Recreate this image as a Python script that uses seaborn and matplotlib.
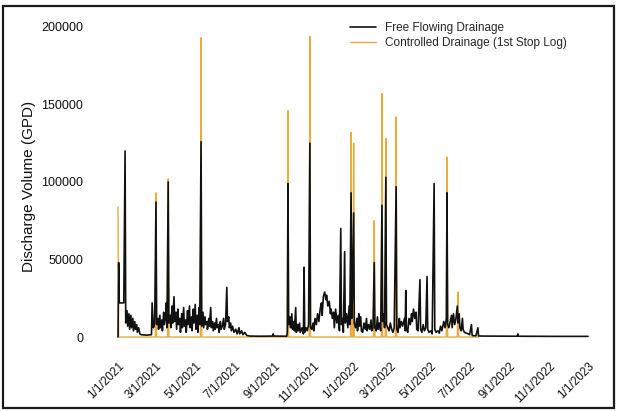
import numpy as np
import pandas as pd
import matplotlib
matplotlib.use("Agg")
import matplotlib.pyplot as plt
import matplotlib.patches as patches
import seaborn as sns

# ---- data (days since 1/1/2021, discharge in GPD) ----
free_days = [0, 1, 2, 9, 11, 12, 14, 15, 17, 18, 20, 21, 23, 24, 26, 27, 29, 30, 32, 34,
             36, 44, 52, 53, 55, 57, 59, 60, 62, 63, 65, 66, 68, 69, 71, 72, 74, 75, 76, 78, 79,
             81, 82, 84, 85, 87, 88, 90, 91, 93, 94, 96, 97, 99, 100, 102, 103, 105, 106, 108, 109,
             111, 112, 114, 115, 117, 118, 120, 121, 123, 124, 126, 127,
             129, 130, 132, 133, 135, 136, 138, 139, 141, 142, 144, 145, 147, 148, 150, 151, 153, 154,
             156, 157, 159, 160, 162, 164, 165, 167, 169, 170, 172, 173, 175, 176, 178, 180, 183, 185,
             188, 189, 192, 194, 197, 200, 205, 220, 240, 241, 242, 255, 262,
             263, 264, 265, 267, 268, 270, 271, 273, 274, 276, 277, 279, 280, 282, 283, 286, 288, 289,
             290, 292, 294, 296, 298, 299, 301, 303, 304, 306, 308, 310, 312, 314, 316, 317, 319, 321,
             323, 324, 326, 328, 330, 331, 333, 335, 336, 338, 340, 342, 344, 346, 347, 349, 350, 352,
             353, 355, 357, 359, 360, 362, 363, 364, 366, 367, 369, 371, 372, 374, 375, 377, 378, 380,
             382, 384, 386, 387, 389, 391, 393, 394, 396, 398, 399, 401, 403, 404, 406, 408, 410, 411,
             413, 414, 416, 417, 419, 421, 423, 425, 427, 429, 432, 433, 435, 437, 438, 440, 442, 445,
             446, 447, 448, 450, 452, 454, 456, 457, 459, 461, 463, 464, 466, 469, 470, 472, 474, 476,
             478, 480, 481, 483, 486, 488, 491, 492, 494, 497, 499, 501, 503, 506, 508, 510, 511, 512,
             514, 516, 518, 519, 521, 523, 525, 527, 528, 530, 531, 533, 535, 536, 538, 541, 544, 546,
             549, 550, 553, 556, 559, 560, 565, 600, 620, 621, 622, 680, 730]
free_vals = [0, 48000, 22000, 22000, 120000, 9000, 17000, 7000, 15000, 5000, 14000, 6000, 12000, 4000,
             10000, 5000, 8000, 3000, 6000, 2000,
             1500, 1200, 1500, 22000, 6000, 9000, 87000, 8000, 12000, 5000, 14000, 6000, 11000, 4000,
             16000, 8000, 13000, 22000, 6000, 100000, 9000,
             14000, 6000, 20000, 9000, 26000, 10000, 16000, 5000, 18000, 8000, 12000, 3000, 15000, 6000,
             19000, 7000, 11000, 3000, 17000, 8000, 20000, 6000, 13000, 4000, 18000, 9000, 21000, 5000,
             14000, 3000, 19000, 8000,
             126000, 7000, 16000, 6000, 13000, 8000, 10000, 5000, 12000, 7000, 19000, 6000, 10000, 4000,
             9000, 5000, 12000, 6000, 8000, 3000, 10000, 5000, 7000, 12000, 5000, 8000, 32000, 10000,
             13000, 6000, 9000, 4000, 7000, 3000, 5000, 2000, 6000, 2000, 4000, 1500, 3000, 1000, 600,
             500, 600, 2000, 600, 500, 500,
             3000, 99000, 8000, 13000, 6000, 15000, 5000, 10000, 4000, 19000, 3000, 8000, 4000, 9000,
             3000, 6000, 2000, 45000, 3000, 6000, 4000, 8000, 125000, 6000, 5000, 9000, 4000, 12000,
             8000, 15000, 10000, 18000, 22000, 14000, 26000, 29000, 24000, 27000, 20000, 23000, 15000,
             18000, 12000, 16000, 6000, 18000, 9000, 14000, 4000, 70000, 8000, 12000, 3000, 55000,
             9000, 15000, 6000, 20000, 8000, 93000, 12000, 25000, 80000, 9000, 6000, 12000, 4000,
             15000, 7000, 13000, 4000, 3000, 9000, 5000, 12000, 4000, 8000, 5000, 11000, 4000, 6000,
             48000, 6000, 4000, 13000, 5000, 9000, 4000, 85000, 10000, 15000, 6000, 103000, 8000,
             6000, 4000, 9000, 5000, 3000, 6000, 97000, 5000, 3000, 12000, 6000, 10000, 7000, 12000,
             4000, 30000, 5000, 3000, 12000, 8000, 15000, 10000, 18000, 12000, 16000, 5000, 4000,
             37000, 5000, 3000, 8000, 4000, 6000, 39000, 5000, 3000, 4000, 2000, 99000, 5000, 3000,
             4000, 2500, 7000, 4000, 10000, 6000, 12000, 93000, 8000, 6000, 10000, 14000, 6000, 15000,
             8000, 12000, 20000, 9000, 15000, 6000, 4000, 12000, 5000, 3000, 2500, 2000, 1500, 8000,
             1000, 800, 800, 6000, 700, 600, 500, 500, 2000, 500, 400, 400]

ctrl_days = [0, 1, 58, 59, 60, 77, 78, 79, 128, 129, 130, 263, 264, 265, 297, 298, 299,
             361, 362, 363, 365, 366, 367, 397, 398, 399, 409, 410, 411, 415, 416, 417,
             431, 432, 433, 510, 511, 512, 527, 528, 529, 560]
ctrl_vals = [84000, 0, 0, 93000, 0, 0, 102000, 0, 0, 193000, 0, 0, 146000, 0, 0, 194000, 0,
             0, 132000, 0, 0, 125000, 0, 0, 75000, 0, 0, 157000, 0, 0, 128000, 0,
             0, 142000, 0, 0, 116000, 0, 0, 29000, 0, 0]

tick_dates = ["2021-01-01", "2021-03-01", "2021-05-01", "2021-07-01", "2021-09-01", "2021-11-01",
              "2022-01-01", "2022-03-01", "2022-05-01", "2022-07-01", "2022-09-01", "2022-11-01",
              "2023-01-01"]
tick_labels = ["1/1/2021", "3/1/2021", "5/1/2021", "7/1/2021", "9/1/2021", "11/1/2021",
               "1/1/2022", "3/1/2022", "5/1/2022", "7/1/2022", "9/1/2022", "11/1/2022", "1/1/2023"]
y_ticks = [0, 50000, 100000, 150000, 200000]

series_names = ["Free Flowing Drainage", "Controlled Drainage (1st Stop Log)"]

# ---- build frames ----
start = pd.Timestamp("2021-01-01")
free_df = pd.DataFrame({"date": start + pd.to_timedelta(free_days, unit="D"), "gpd": free_vals})
ctrl_df = pd.DataFrame({"date": start + pd.to_timedelta(ctrl_days, unit="D"), "gpd": ctrl_vals})

sns.set_theme(style="white")
plt.rcParams["font.family"] = ["Liberation Sans", "DejaVu Sans"]

W, H = 617, 411
fig = plt.figure(figsize=(W / 100, H / 100), dpi=100)
ax_l, ax_r, ax_t, ax_b = 90, 605, 20, 352
ax = fig.add_axes([ax_l / W, 1 - ax_b / H, (ax_r - ax_l) / W, (ax_b - ax_t) / H])

px_per_day = 470 / 730.0
x0_day = (ax_l - 118) / px_per_day
x1_day = (ax_r - 118) / px_per_day
gpd_per_px = 200000 / 310.0
ax.set_xlim(start + pd.Timedelta(days=x0_day), start + pd.Timedelta(days=x1_day))
ax.set_ylim(-(ax_b - 337) * gpd_per_px, (337 - ax_t) * gpd_per_px)

orange = "#EBAA3C"
sns.lineplot(data=ctrl_df, x="date", y="gpd", ax=ax, color=orange, linewidth=1.0,
             estimator=None, zorder=2, label=series_names[1])
sns.lineplot(data=free_df, x="date", y="gpd", ax=ax, color="#111111", linewidth=1.2,
             estimator=None, zorder=3, label=series_names[0])

for s in ax.spines.values():
    s.set_visible(False)

ax.set_yticks(y_ticks)
ax.set_yticklabels([str(v) for v in y_ticks], fontsize=9, color="#111111")
ax.set_xticks(pd.to_datetime(tick_dates))
ax.set_xticklabels(tick_labels, rotation=45, ha="right", rotation_mode="anchor",
                   fontsize=8.5, color="#111111")
ax.tick_params(axis="both", length=0)
ax.tick_params(axis="y", pad=5)
ax.tick_params(axis="x", pad=6)
ax.set_xlabel("")
ax.set_ylabel("Discharge Volume (GPD)", fontsize=11, color="#111111")
ax.yaxis.set_label_coords((36 - ax_l) / (ax_r - ax_l), 0.5)

handles, labels = ax.get_legend_handles_labels()
order = [labels.index(n) for n in series_names]
leg = fig.legend([handles[i] for i in order], [labels[i] for i in order],
                 loc="upper left", bbox_to_anchor=(350 / W, 1 - 22 / H),
                 frameon=False, fontsize=8.5, handlelength=2.2, handletextpad=0.75,
                 labelspacing=0.25, borderpad=0, borderaxespad=0)
if ax.legend_:
    ax.legend_.remove()

# page border
fig.add_artist(patches.Rectangle((3 / W, 3 / H), (614 - 3) / W, (408 - 6) / H,
                                 transform=fig.transFigure, fill=False,
                                 edgecolor="#1a1a1a", linewidth=1.6))

fig.savefig("out.png", dpi=100)
